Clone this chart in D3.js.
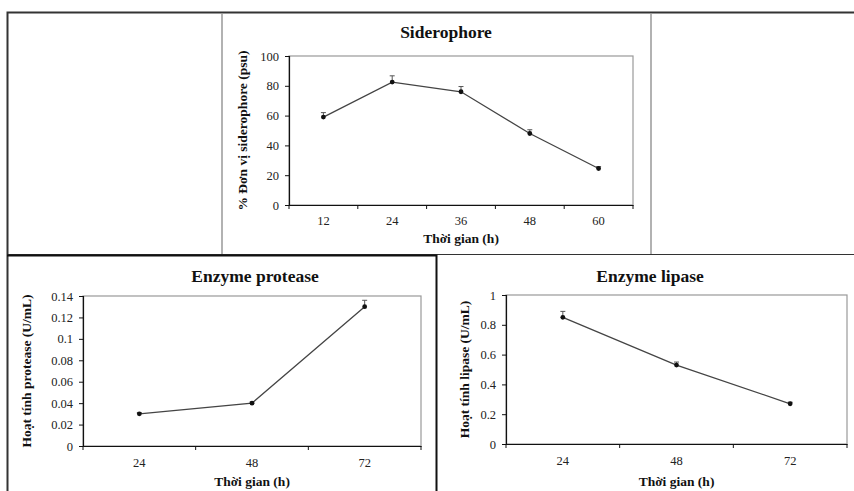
<!DOCTYPE html>
<html>
<head>
<meta charset="utf-8">
<script src="https://cdn.jsdelivr.net/npm/d3@7"></script>
<style>
  body { margin: 0; background: #fff; }
  svg { display: block; font-family: "Liberation Serif", "Times New Roman", serif; }
</style>
</head>
<body>
<svg id="fig" width="854" height="491"></svg>
<script>
// data
var sidTimes = ["12", "24", "36", "48", "60"];
var sidValues = [59, 82.5, 76, 48, 24.5];
var sidErrors = [3, 4.2, 3.5, 2.5, 1.2];
var sidTicks = [0, 20, 40, 60, 80, 100];

var protTimes = ["24", "48", "72"];
var protValues = [0.03, 0.04, 0.13];
var protErrors = [0.001, 0.001, 0.006];
var protTicks = [0, 0.02, 0.04, 0.06, 0.08, 0.1, 0.12, 0.14];

var lipTimes = ["24", "48", "72"];
var lipValues = [0.85, 0.53, 0.27];
var lipErrors = [0.04, 0.02, 0.01];
var lipTicks = [0, 0.2, 0.4, 0.6, 0.8, 1];

var svg = d3.select("#fig");

// table lines around the three figures
var frame = svg.append("g").attr("class", "frame").attr("fill", "none");
frame.append("path").attr("d", "M7.5,491 V12.5 H854").attr("stroke", "#333").attr("stroke-width", 2);
frame.append("path").attr("d", "M222,13 V254").attr("stroke", "#999").attr("stroke-width", 1.5);
frame.append("path").attr("d", "M651,13 V254").attr("stroke", "#999").attr("stroke-width", 1.5);
frame.append("path").attr("d", "M7,254.5 H854").attr("stroke", "#333").attr("stroke-width", 1.2);
frame.append("path").attr("d", "M7,255.5 H436.5 V491").attr("stroke", "#111").attr("stroke-width", 2);

function panel(cfg) {
  var g = svg.append("g");
  var x = d3.scaleBand().domain(cfg.cats).range([cfg.left, cfg.right]);
  var y = d3.scaleLinear().domain([0, d3.max(cfg.ticks)]).range([cfg.bottom, cfg.top]);

  // plot area border
  g.append("rect")
    .attr("x", cfg.left).attr("y", cfg.top)
    .attr("width", cfg.right - cfg.left).attr("height", cfg.bottom - cfg.top)
    .attr("fill", "none").attr("stroke", "#999").attr("stroke-width", 1.2);

  var yAxis = g.append("g")
    .attr("transform", "translate(" + cfg.left + ",0)")
    .call(d3.axisLeft(y).tickValues(cfg.ticks).tickSize(4).tickPadding(6).tickFormat(String));
  yAxis.attr("font-family", null).attr("font-size", 12.5);
  yAxis.select(".domain").attr("stroke", "#111").attr("stroke-width", 1.2);
  yAxis.selectAll(".tick line").attr("stroke", "#111");
  yAxis.selectAll(".tick text").attr("fill", "#222");

  var xAxis = g.append("g")
    .attr("transform", "translate(0," + cfg.bottom + ")")
    .call(d3.axisBottom(x).tickSize(0).tickPadding(cfg.tickPad));
  xAxis.attr("font-family", null).attr("font-size", 12.5);
  xAxis.select(".domain").attr("stroke", "#111").attr("stroke-width", 1.2);
  xAxis.selectAll(".tick text").attr("fill", "#222");

  // tick marks sit between categories, like the spreadsheet chart
  var edges = cfg.cats.map(function(c) { return x(c); }).concat([x.range()[1]]);
  g.append("g").selectAll("line").data(edges).enter().append("line")
    .attr("x1", function(d) { return d; }).attr("x2", function(d) { return d; })
    .attr("y1", cfg.bottom).attr("y2", cfg.bottom + 4)
    .attr("stroke", "#111");

  var pts = cfg.cats.map(function(c, i) {
    return { cx: x(c) + x.bandwidth() / 2, v: cfg.values[i], e: cfg.errors[i] };
  });

  // error bars (upper only)
  var eb = g.append("g").attr("stroke", "#555").attr("stroke-width", 1);
  eb.selectAll("line.v").data(pts).enter().append("line").attr("class", "v")
    .attr("x1", function(d) { return d.cx; }).attr("x2", function(d) { return d.cx; })
    .attr("y1", function(d) { return y(d.v); }).attr("y2", function(d) { return y(d.v + d.e); });
  eb.selectAll("line.c").data(pts).enter().append("line").attr("class", "c")
    .attr("x1", function(d) { return d.cx - 2.5; }).attr("x2", function(d) { return d.cx + 2.5; })
    .attr("y1", function(d) { return y(d.v + d.e); }).attr("y2", function(d) { return y(d.v + d.e); });

  g.append("path").datum(pts)
    .attr("fill", "none").attr("stroke", "#444").attr("stroke-width", 1.3)
    .attr("d", d3.line().x(function(d) { return d.cx; }).y(function(d) { return y(d.v); }));

  g.selectAll("circle").data(pts).enter().append("circle")
    .attr("cx", function(d) { return d.cx; }).attr("cy", function(d) { return y(d.v); })
    .attr("r", 2.4).attr("fill", "#111");

  g.append("text").text(cfg.title)
    .attr("x", cfg.titleX).attr("y", cfg.titleY)
    .attr("text-anchor", "middle").attr("font-size", 17.5).attr("font-weight", "bold").attr("fill", "#111");

  g.append("text").text("Thời gian (h)")
    .attr("x", (cfg.left + cfg.right) / 2).attr("y", cfg.xTitleY)
    .attr("text-anchor", "middle").attr("font-size", 13.5).attr("font-weight", "bold").attr("fill", "#111");

  g.append("text").text(cfg.yTitle)
    .attr("transform", "translate(" + cfg.yTitleX + "," + (cfg.top + cfg.bottom) / 2 + ") rotate(-90)")
    .attr("text-anchor", "middle").attr("font-size", 13.5).attr("font-weight", "bold").attr("fill", "#111");
}

panel({
  cats: sidTimes, values: sidValues, errors: sidErrors, ticks: sidTicks,
  left: 289, right: 633, top: 56, bottom: 205, tickPad: 11,
  title: "Siderophore", titleX: 446, titleY: 38,
  xTitleY: 243, yTitle: "% Đơn vị siderophore (psu)", yTitleX: 247
});

panel({
  cats: protTimes, values: protValues, errors: protErrors, ticks: protTicks,
  left: 83, right: 421, top: 296, bottom: 446, tickPad: 12,
  title: "Enzyme protease", titleX: 255, titleY: 282,
  xTitleY: 486, yTitle: "Hoạt tính protease (U/mL)", yTitleX: 31
});

panel({
  cats: lipTimes, values: lipValues, errors: lipErrors, ticks: lipTicks,
  left: 506, right: 847, top: 295, bottom: 444, tickPad: 12,
  title: "Enzyme lipase", titleX: 650, titleY: 282,
  xTitleY: 486, yTitle: "Hoạt tính lipase (U/mL)", yTitleX: 469
});
</script>
</body>
</html>
